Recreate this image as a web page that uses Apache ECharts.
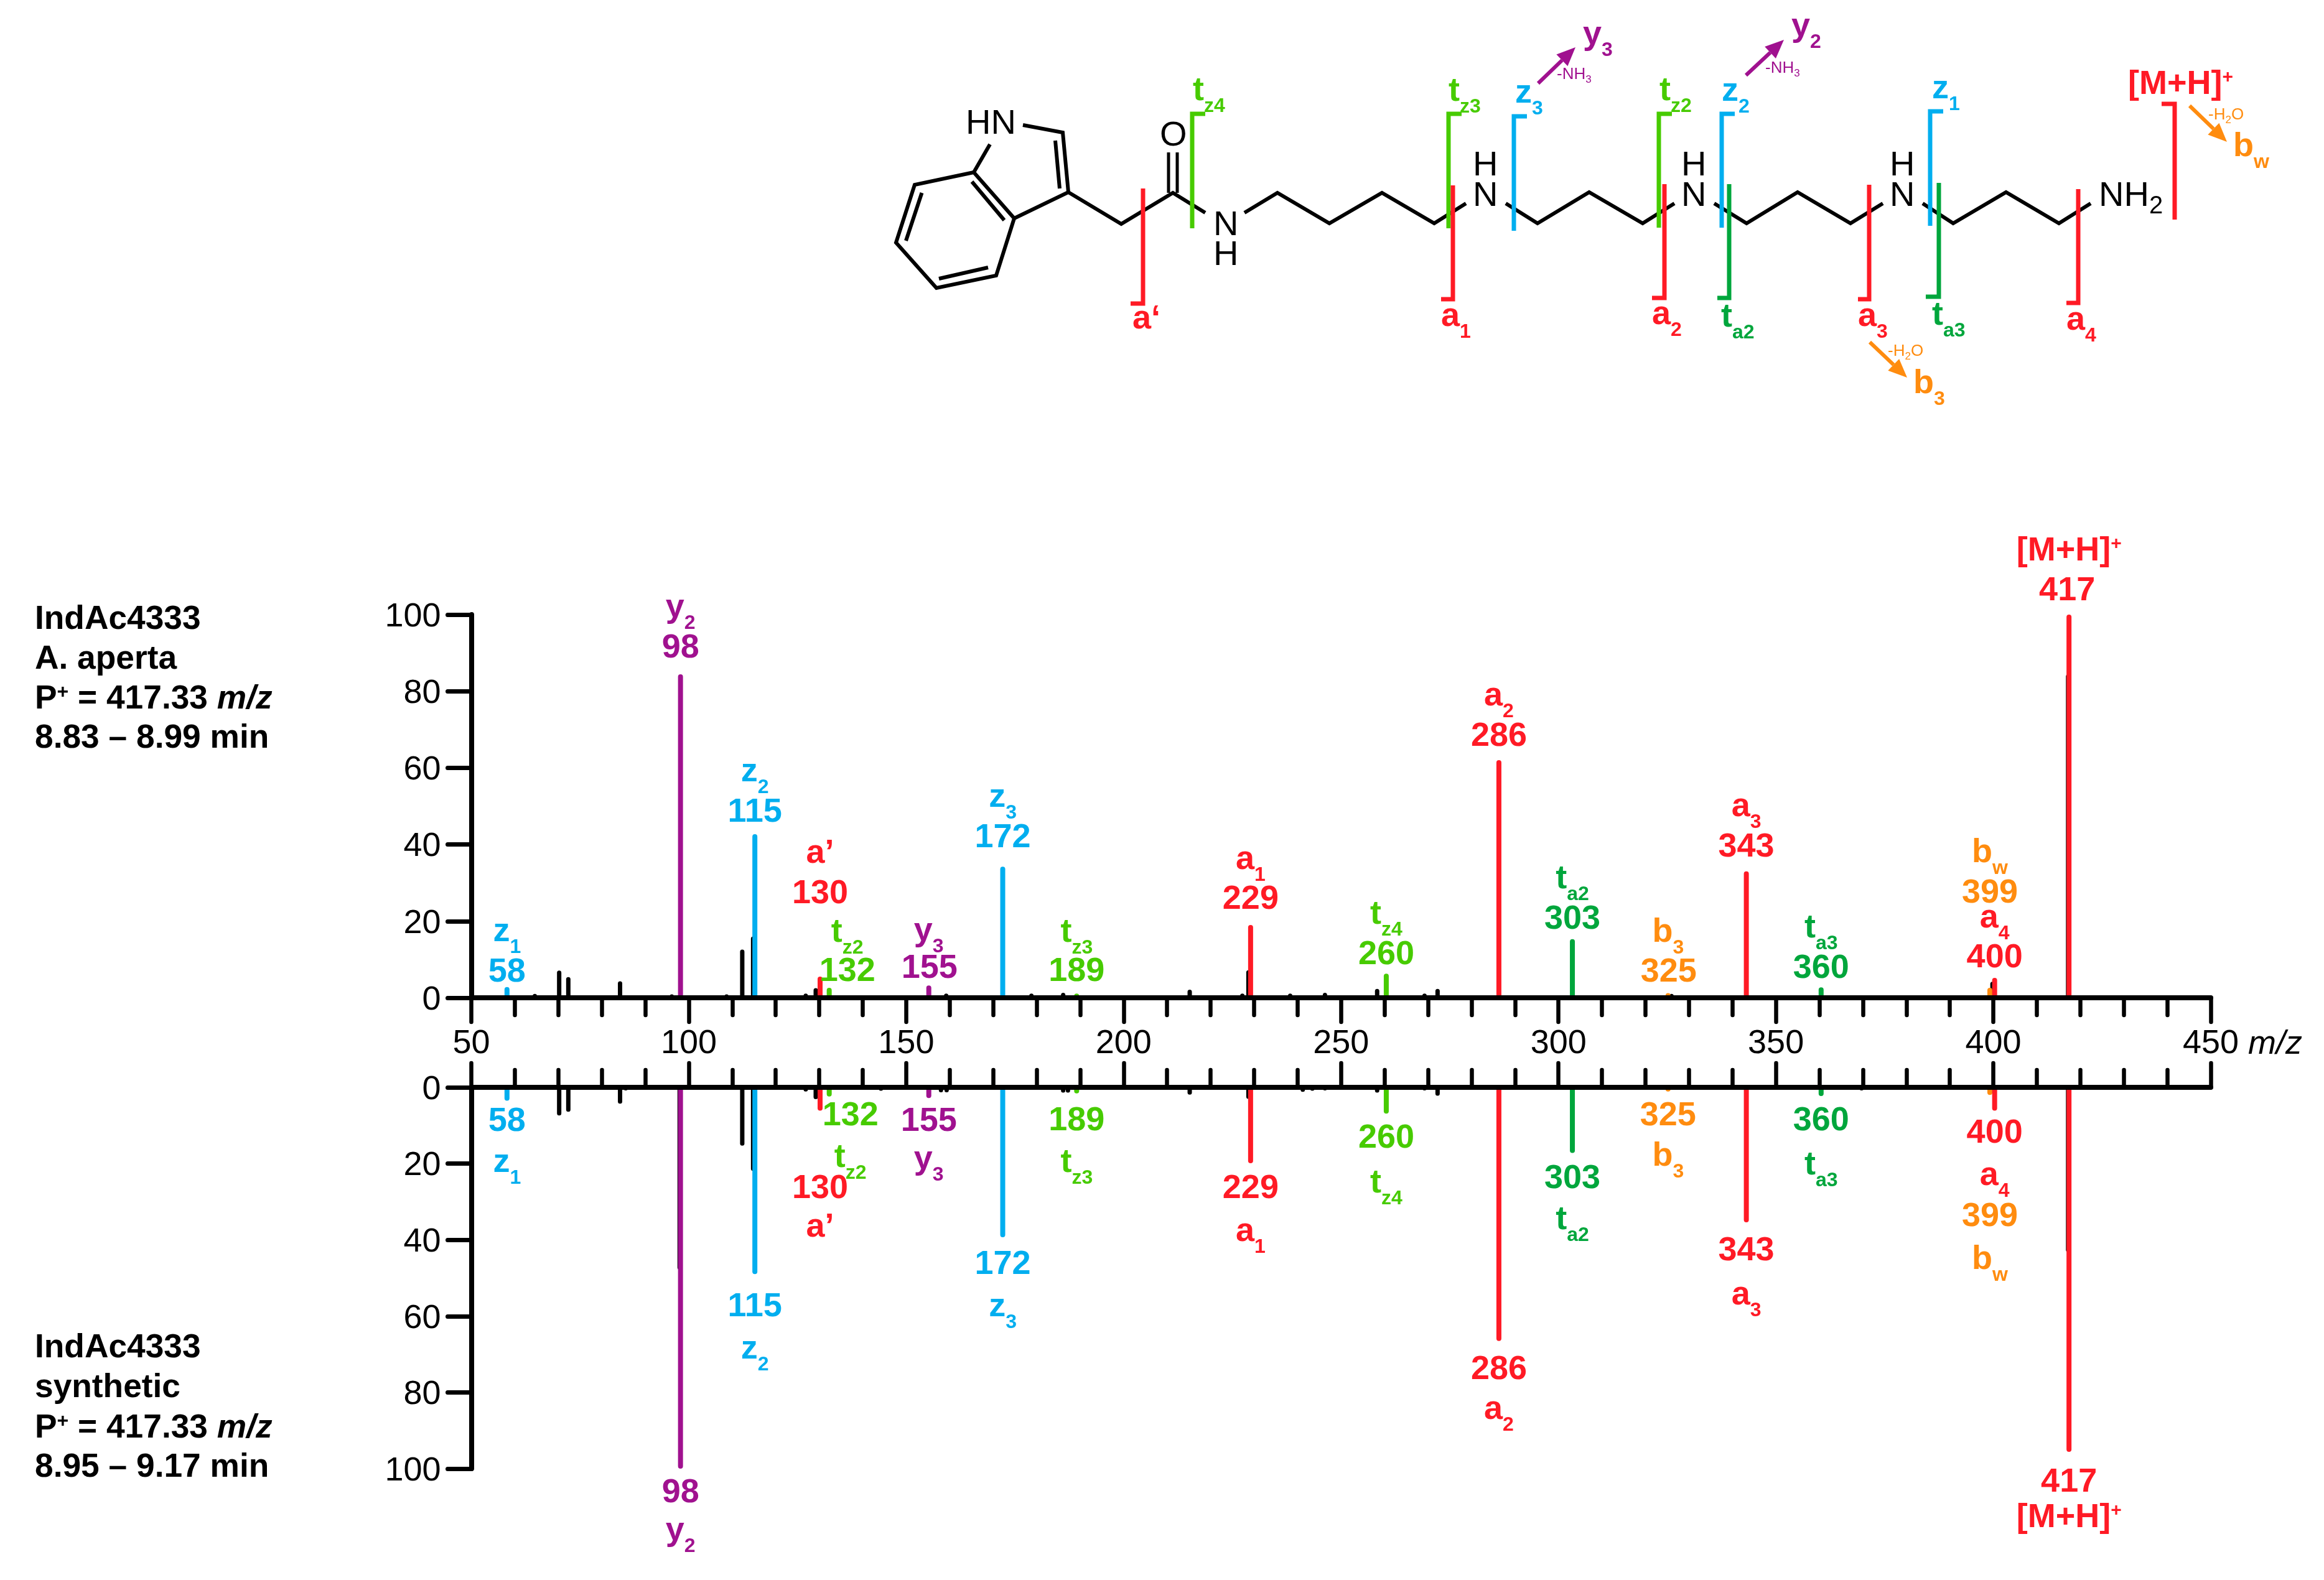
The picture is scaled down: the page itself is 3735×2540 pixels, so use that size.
<!DOCTYPE html>
<html><head><meta charset="utf-8">
<style>html,body{margin:0;padding:0;background:#fff}#c{width:3735px;height:2540px}</style>
<script src="https://cdn.jsdelivr.net/npm/echarts@6/dist/echarts.min.js"></script>
</head><body><div id="c"></div>
<script>
// ---------- data (m/z and relative abundance) ----------
const aMz=[130.2,229.2,286.3,343.2,400.3,417.4];
const aTop=[5.5,19,62,33,5.2,100];
const aBottom=[6.1,19.9,66.5,35.4,6.1,95.6];
const zMz=[58.2,115.2,172.2];
const zTop=[2.8,42.7,34.2];
const zBottom=[3.5,49,39.3];
const tzMz=[132.3,189.2,260.4];
const tzTop=[2.6,1.1,6.3];
const tzBottom=[2.4,1.6,6.9];
const taMz=[303.2,360.4];
const taTop=[15.3,2.7];
const taBottom=[17.2,2.3];
const yMz=[98.1,155.2];
const yTop=[84.4,3.2];
const yBottom=[100,2.8];
const bMz=[325.2,399.2];
const bTop=[1.2,2.6];
const bBottom=[1.1,2];
const noiseTopMz=[64.6,70.2,72.3,84.2,91.8,96.1,104.6,108.7,112.3,114.8,126.9,129.2,159.2,178.8,186.1,215.2,227.3,228.7,238.3,246.3,258.3,269.2,272.2,326,343.2,399.8,417.2];
const noiseTopVal=[1,7.1,5.4,4.3,0.6,0.9,0.6,0.9,12.6,16,1.1,2.5,1.1,1.1,1.3,2.1,1.1,7.2,1.1,1.3,2.3,1.1,2.3,1,1.2,4.2,84.4];
const noiseBottomMz=[70.2,72.3,84.2,85.5,97.9,112.3,114.8,126.9,129.2,144.2,158,159.3,186.1,187.2,215.2,228.7,241.2,243.4,246.3,258.3,269.2,272.2,369.7,417.2];
const noiseBottomVal=[7.4,6.4,4.3,0.8,47.8,15.3,21.9,1.1,3.1,0.9,1.3,1.3,1.4,1.4,1.9,3,1.2,0.9,0.8,1.4,0.8,2.2,0.8,43.2];
const xTicksMin=50, xTicksMax=450, xTickStep=50;
const yTickStep=20;
const ionNumbers=['58','98','115','130','132','155','172','189','229','260','286','303','325','343','360','399','400','417'];
const ionSymbols=['z','y','z','a’','t','y','z','t','a','t','a','t','b','a','t','b','a','[M+H]'];
const ionSubs=['1','2','2','','z2','3','3','z3','1','z4','2','a2','3','3','a3','w','4',''];
const ionMz=[58.2,98.1,115.2,130.2,132.3,155.2,172.2,189.2,229.2,260.4,286.3,303.2,325.2,343.2,360.4,399.2,400.3,417.4];
const ionFamily=['z','y','z','a','tz','y','z','tz','a','tz','a','ta','b','a','ta','b','a','a'];

// ---------- styles and layout ----------
const COL={a:'#FF1A25',z:'#00AEEF',tz:'#47CB00',ta:'#00A63C',y:'#A0118F',b:'#FF8C0F',k:'#000'};
const FF='"Liberation Sans"';
const L={left:757.5,width:2795.5,topY:988,topH:616,botY:1748,botH:613};
// [number baseline, symbol baseline, dx of number, dx of symbol] in page pixels
const upperPlace={58:[1579,1514,0,0],98:[1058,993,0,0],115:[1322,1257,0,0],130:[1453,1388,0,0],132:[1578,1515,29,29],155:[1573,1513,1,0],172:[1363,1298,0,0],189:[1578,1515,0,0],229:[1462,1398,0,0],260:[1551,1486,0,0],286:[1200,1135,0,0],303:[1494,1429,0,0],325:[1579,1515,1,0],343:[1378,1313,0,0],360:[1573,1508,0,0],399:[1452,1387,0,0],400:[1556,1492,0,0],417:[966,902,-3,0]};
const lowerPlace={58:[1819,1885,0,0],98:[2416,2477,0,0],115:[2117,2185,0,0],130:[1927,1989,0,0],132:[1810,1877,34,34],155:[1819,1880,0,0],172:[2049,2117,0,0],189:[1818,1885,0,0],229:[1927,1996,0,0],260:[1846,1918,0,0],286:[2218,2282,0,0],303:[1911,1977,0,0],325:[1810,1875,0,0],343:[2027,2098,0,0],360:[1818,1889,0,0],399:[1972,2041,0,0],400:[1838,1906,0,0],417:[2399,2456,0,0]};

const measure=document.createElement('canvas').getContext('2d');
function fontOf(p){return (p.it?'italic ':'')+(p.bold===false?'':'bold ')+p.fs+'px '+FF;}
function widthOf(p){measure.font=fontOf(p);return measure.measureText(p.t).width;}
// lays several text runs on one baseline; anchor 'l' or 'c'
function runs(parts,x,base,color,anchor){
  let w=0;parts.forEach(p=>{w+=widthOf(p)+(p.gap||0);});
  let cx=anchor==='c'?x-w/2:x;
  const out=[];
  parts.forEach(p=>{
    out.push({type:'text',x:cx,y:base+(p.dy||0)-0.29*p.fs,silent:true,
      style:{text:p.t,fill:p.color||color,font:fontOf(p),align:'left',verticalAlign:'middle'}});
    cx+=widthOf(p)+(p.gap||0);
  });
  return out;
}
function symbolParts(sym,sub){
  const parts=[{t:sym,fs:54}];
  if(sub)parts.push({t:sub,fs:32,dy:18});
  return parts;
}
function stick(color,width){
  return function(params,api){
    const p0=api.coord([api.value(0),0]),p1=api.coord([api.value(0),api.value(1)]);
    const dir=p1[1]<p0[1]?1:-1;
    return {type:'line',silent:true,shape:{x1:p0[0],y1:p0[1],x2:p1[0],y2:p1[1]+dir*width/2},
      style:{stroke:color,lineWidth:width,lineCap:'round'}};
  };
}
function stickSeries(name,mz,vals,color,width,idx){
  return {name,type:'custom',xAxisIndex:idx,yAxisIndex:idx,clip:false,animation:false,z:3,silent:true,
    encode:{x:0,y:1},data:mz.map((m,i)=>[m,vals[i]]),renderItem:stick(color,width)};
}
function labelSeries(place,idx,plus){
  return {name:idx?'labels synthetic':'labels natural',type:'custom',xAxisIndex:idx,yAxisIndex:idx,clip:false,animation:false,z:4,silent:true,
    encode:{x:0,y:1},data:ionMz.map((m,i)=>[m,0,i]),
    renderItem(params,api){
      const i=api.value(2),x=api.coord([api.value(0),0])[0],num=ionNumbers[i];
      const pl=place[num],col=COL[ionFamily[i]];
      const parts=symbolParts(ionSymbols[i],ionSubs[i]);
      if(num==='417')parts.push({t:'+',fs:30,dy:-19});
      return {type:'group',children:[].concat(
        runs([{t:num,fs:54}],x+pl[2],pl[0],col,'c'),
        runs(parts,x+pl[3],pl[1],col,'c'))};
    }};
}
function xAxis(idx){
  return {type:'value',gridIndex:idx,min:xTicksMin,max:xTicksMax,interval:xTickStep,position:idx?'top':'bottom',z:10,
    axisLine:{show:true,onZero:false,lineStyle:{color:'#000',width:8,cap:'round'}},
    axisTick:{show:true,length:39,lineStyle:{color:'#000',width:6.5,cap:'round'}},
    minorTick:{show:true,splitNumber:5,length:28,lineStyle:{color:'#000',width:6.5,cap:'round'}},
    splitLine:{show:false},minorSplitLine:{show:false},
    axisLabel:{show:!idx,color:'#000',fontFamily:FF,fontSize:54,margin:47,showMinLabel:true,showMaxLabel:true}};
}
function yAxis(idx){
  return {type:'value',gridIndex:idx,min:0,max:100,interval:yTickStep,inverse:!!idx,position:'left',z:10,
    axisLine:{show:true,onZero:false,lineStyle:{color:'#000',width:8,cap:'round'}},
    axisTick:{show:true,length:38,lineStyle:{color:'#000',width:7,cap:'round'}},
    splitLine:{show:false},
    axisLabel:{color:'#000',fontFamily:FF,fontSize:54,margin:49,verticalAlign:'top',lineHeight:8,showMinLabel:true,showMaxLabel:true}};
}

// ---------- chemical structure and side notes (decoration) ----------
const G=[];
function bond(pts,color,w){G.push({type:'polyline',silent:true,shape:{points:pts},style:{stroke:color||'#000',fill:null,lineWidth:w||6,lineJoin:'miter',lineCap:'butt'}});}
function put(parts,x,base,color){runs(parts,x,base,color,'l').forEach(e=>{G.push(e);});}
const R=(t,fs,dy)=>({t,fs:fs||54,dy:dy||0,bold:false});
// indole ring
bond([[1565,277],[1470,297],[1440,390],[1505,463],[1601,443],[1630,351],[1565,277]]);
bond([[1562,292],[1614,354]]);bond([[1481.5,310],[1456,387]]);bond([[1509,448],[1588,430]]);
bond([[1565,277],[1591,232]]);
bond([[1644,201],[1708,213],[1717,309],[1630,351]]);
bond([[1696,226],[1703,303]]);
// linker and amide
bond([[1717,309],[1802,360],[1885,310],[1937,342]]);
bond([[1878,245],[1878,310]],'#000',5);bond([[1892,245],[1892,310]],'#000',5);
bond([[2000,342],[2053,310],[2136.5,359],[2221,310],[2305,359],[2356,327]]);
bond([[2420,327],[2471,359],[2554,309],[2640,359],[2691,327]]);
bond([[2755,327],[2807,359],[2889,309],[2974,359],[3026,327]]);
bond([[3090,327],[3139,359],[3224,309],[3309,359],[3360,327]]);
put([R('HN',56)],1552,216,'#000');
put([R('O',56)],1864,235,'#000');
put([R('N',56)],1950,379,'#000');put([R('H',56)],1950,427,'#000');
[2367,2702,3037].forEach(x=>{put([R('H',56)],x,283,'#000');put([R('N',56)],x,332,'#000');});
put([R('NH',56),R('2',40,12)],3373,332,'#000');
// fragment brackets: [x, top, bottom, hook end x, hook at 'top' or 'bottom']
const brackets=[
 [1837,303,488,1817,'b','a'],[1916,183,367,1937,'t','tz'],[2328,183,367,2349,'t','tz'],[2335,298,481,2316,'b','a'],
 [2433,187,371,2454,'t','z'],[2666,183,366,2687,'t','tz'],[2675,296,479,2655,'b','a'],[2767,183,366,2788,'t','z'],
 [2779,296,479,2760,'b','ta'],[3004,297,481,2986,'b','a'],[3102,179,363,3123,'t','z'],[3116,294,477,3095,'b','ta'],
 [3340,304,487,3321,'b','a'],[3495,167,353,3474,'t','a']];
brackets.forEach(b=>{
  const pts=b[4]==='t'?[[b[3],b[1]],[b[0],b[1]],[b[0],b[2]]]:[[b[0],b[1]],[b[0],b[2]],[b[3],b[2]]];
  bond(pts,COL[b[5]],7);
});
const B=(t,fs,dy)=>({t,fs:fs||54,dy:dy||0});
[['t','z4',1917,162,'tz'],['t','z3',2328,163,'tz'],['z','3',2435,166,'z'],['t','z2',2667,162,'tz'],['z','2',2767,163,'z'],['z','1',3105,159,'z'],
 ['a','1',2316,525,'a'],['a','2',2655,522,'a'],['t','a2',2766,526,'ta'],['a','3',2986,525,'a'],['t','a3',3105,523,'ta'],['a','4',3321,531,'a'],
 ['b','3',3075,633,'b'],['b','w',3589,252,'b'],['y','3',2544,72,'y'],['y','2',2879,59,'y']
].forEach(l=>put(symbolParts(l[0],l[1]),l[2],l[3],COL[l[4]]));
put([B('a‘')],1820,529,COL.a);
put([B('[M+H]'),B('+',30,-19)],3420,152,COL.a);
function arrow(x1,y1,x2,y2,color){
  const a=Math.atan2(y2-y1,x2-x1),h=30,s=13;
  const bx=x2-h*Math.cos(a),by=y2-h*Math.sin(a);
  bond([[x1,y1],[bx,by]],color,6);
  G.push({type:'polygon',silent:true,shape:{points:[[x2,y2],[bx-s*Math.sin(a),by+s*Math.cos(a)],[bx+s*Math.sin(a),by-s*Math.cos(a)]]},style:{fill:color}});
}
arrow(2472,134,2532,76,COL.y);arrow(2806,121,2867,64,COL.y);
arrow(3005,550,3065,607,COL.b);arrow(3519,170,3579,228,COL.b);
[[2502,127],[2837,117]].forEach(p=>put([R('-NH',26),R('3',17,6)],p[0],p[1],COL.y));
[[3034,572],[3549,192]].forEach(p=>put([R('-H',26),R('2',17,6),R('O',26)],p[0],p[1],COL.b));
// sample notes
const N=t=>B(t,53.3);
const I=t=>({t,fs:53.3,it:true});
put([N('IndAc4333')],56,1012,'#000');put([N('A. aperta')],56,1076,'#000');
put([N('P'),B('+',32,-18),N(' = 417.33 '),I('m/z')],56,1140,'#000');put([N('8.83 – 8.99 min')],56,1203,'#000');
put([N('IndAc4333')],56,2183,'#000');put([N('synthetic')],56,2247,'#000');
put([N('P'),B('+',32,-18),N(' = 417.33 '),I('m/z')],56,2312,'#000');put([N('8.95 – 9.17 min')],56,2375,'#000');
put([{t:'m/z',fs:54,it:true,bold:false}],3613,1695,'#000');

const chart=echarts.init(document.getElementById('c'),null,{renderer:'canvas'});
chart.setOption({
  backgroundColor:'#fff',animation:false,
  textStyle:{fontFamily:FF},
  grid:[
    {left:L.left,top:L.topY,width:L.width,height:L.topH,containLabel:false},
    {left:L.left,top:L.botY,width:L.width,height:L.botH,containLabel:false}],
  xAxis:[xAxis(0),xAxis(1)],
  yAxis:[yAxis(0),yAxis(1)],
  graphic:{elements:G},
  series:[
    stickSeries('other ions natural',noiseTopMz,noiseTopVal,COL.k,7,0),
    stickSeries('other ions synthetic',noiseBottomMz,noiseBottomVal,COL.k,7,1),
    stickSeries('b natural',bMz,bTop,COL.b,8,0),stickSeries('b synthetic',bMz,bBottom,COL.b,8,1),
    stickSeries('a natural',aMz,aTop,COL.a,8,0),stickSeries('a synthetic',aMz,aBottom,COL.a,8,1),
    stickSeries('z natural',zMz,zTop,COL.z,8,0),stickSeries('z synthetic',zMz,zBottom,COL.z,8,1),
    stickSeries('tz natural',tzMz,tzTop,COL.tz,8,0),stickSeries('tz synthetic',tzMz,tzBottom,COL.tz,8,1),
    stickSeries('ta natural',taMz,taTop,COL.ta,8,0),stickSeries('ta synthetic',taMz,taBottom,COL.ta,8,1),
    stickSeries('y natural',yMz,yTop,COL.y,8,0),stickSeries('y synthetic',yMz,yBottom,COL.y,8,1),
    labelSeries(upperPlace,0),labelSeries(lowerPlace,1)
  ]
});
</script></body></html>
